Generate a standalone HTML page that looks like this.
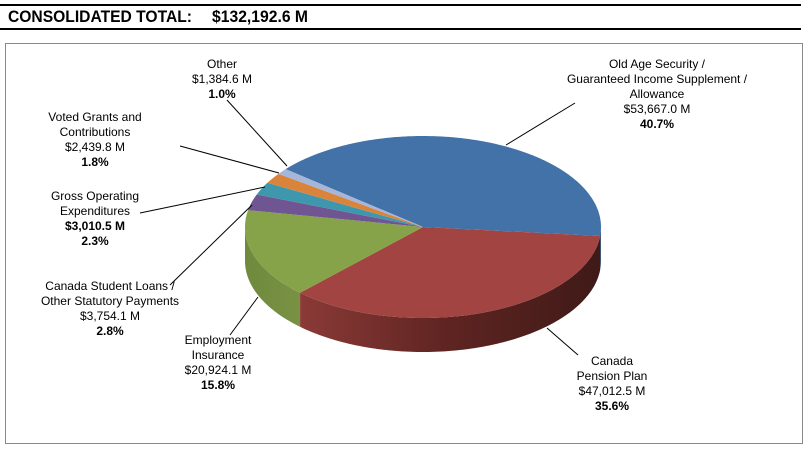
<!DOCTYPE html>
<html><head><meta charset="utf-8"><style>
body{margin:0;width:808px;height:446px;background:#fff;overflow:hidden;font-family:"Liberation Sans",Arial,sans-serif}
</style></head><body>
<svg width="808" height="446" xmlns="http://www.w3.org/2000/svg">
<defs>
<linearGradient id="redSide" x1="0" x2="1" y1="0" y2="0"><stop offset="0" stop-color="#8a3a37"/><stop offset="0.5" stop-color="#5e2421"/><stop offset="1" stop-color="#3f1a18"/></linearGradient>
<linearGradient id="greenSide" x1="0" x2="1"><stop offset="0" stop-color="#6f8a3d"/><stop offset="1" stop-color="#7a9143"/></linearGradient>
</defs>
<rect x="0" y="4" width="801" height="2" fill="#000"/>
<text x="8" y="22" font-size="17" font-weight="bold" textLength="184" lengthAdjust="spacingAndGlyphs">CONSOLIDATED TOTAL:</text>
<text x="212" y="22" font-size="17" font-weight="bold" textLength="96" lengthAdjust="spacingAndGlyphs">$132,192.6 M</text>
<rect x="0" y="28" width="801" height="2" fill="#000"/>
<rect x="5.5" y="43.5" width="797" height="400" fill="#fff" stroke="#888"/>
<g id="pie"></g>
<g id="labels" font-size="12" text-anchor="middle" fill="#000"></g>
</svg>
<script>
const categories=["Old Age Security / Guaranteed Income Supplement / Allowance","Canada Pension Plan","Employment Insurance","Canada Student Loans / Other Statutory Payments","Gross Operating Expenditures","Voted Grants and Contributions","Other"];
const values=[53667.0,47012.5,20924.1,3754.1,3010.5,2439.8,1384.6];
const amountLabels=["$53,667.0 M","$47,012.5 M","$20,924.1 M","$3,754.1 M","$3,010.5 M","$2,439.8 M","$1,384.6 M"];
const percentLabels=["40.7%","35.6%","15.8%","2.8%","2.3%","1.8%","1.0%"];
const colors=["#4272a8","#a24441","#86a34a","#6f5592","#3f97ae","#d9843a","#a5b6d9"];
const sideColors=["#2c4d73","url(#redSide)","url(#greenSide)","#4b3a63","#2a6777","#93592a","#707b94"];
const NS="http://www.w3.org/2000/svg";
const cx=423,cy=227,rx=178,ry=91,depth=34,startDeg=-140.5;
const pie=document.getElementById('pie');
const total=values.reduce((a,b)=>a+b,0);
function pt(deg,dy){const r=deg*Math.PI/180;return [cx+rx*Math.cos(r),cy+ry*Math.sin(r)+(dy||0)];}
function arc(a1,a2,dy){let s=[];const n=Math.max(2,Math.ceil(Math.abs(a2-a1)));for(let i=0;i<=n;i++){const p=pt(a1+(a2-a1)*i/n,dy);s.push(p[0].toFixed(2)+','+p[1].toFixed(2));}return s;}
let angles=[];let a=startDeg;
values.forEach(v=>{const b=a+v/total*360;angles.push([a,b]);a=b;});
angles.forEach(([a1,a2],i)=>{
  for(const off of [0,360,-360]){
    const s=Math.max(a1+off,0),e=Math.min(a2+off,180);
    if(e>s){
      const top=arc(s,e,0),bot=arc(e,s,depth);
      const p=document.createElementNS(NS,'polygon');
      p.setAttribute('points',top.concat(bot).join(' '));
      p.setAttribute('fill',sideColors[i]);
      
      
      pie.appendChild(p);
    }
  }
});
angles.forEach(([a1,a2],i)=>{
  const p=document.createElementNS(NS,'polygon');
  p.setAttribute('points',[cx+','+cy].concat(arc(a1,a2,0)).join(' '));
  p.setAttribute('fill',colors[i]);
  
  
  pie.appendChild(p);
});
const lab=document.getElementById('labels');
const layout=[
 {x:657,y:68,lines:["Old Age Security /","Guaranteed Income Supplement /","Allowance"],l:[575,103,506,145],boldAmt:false},
 {x:612,y:365,lines:["Canada","Pension Plan"],l:[578,355,547,328],boldAmt:false},
 {x:218,y:344,lines:["Employment","Insurance"],l:[230,335,258,297],boldAmt:false},
 {x:110,y:290,lines:["Canada Student Loans /","Other Statutory Payments"],l:[170,285,252,205],boldAmt:false},
 {x:95,y:200,lines:["Gross Operating","Expenditures"],l:[140,213,265,187],boldAmt:true},
 {x:95,y:121,lines:["Voted Grants and","Contributions"],l:[180,146,279,173],boldAmt:false},
 {x:222,y:68,lines:["Other"],l:[227,100,287,166],boldAmt:false}
];
layout.forEach((L,i)=>{
  const ln=document.createElementNS(NS,'line');
  ln.setAttribute('x1',L.l[0]);ln.setAttribute('y1',L.l[1]);ln.setAttribute('x2',L.l[2]);ln.setAttribute('y2',L.l[3]);
  ln.setAttribute('stroke','#000');ln.setAttribute('stroke-width','1');
  
  
  lab.appendChild(ln);
  const t=document.createElementNS(NS,'text');
  
  
  const rows=L.lines.map(s=>[s,false]).concat([[amountLabels[i],L.boldAmt],[percentLabels[i],true]]);
  rows.forEach((r,k)=>{
    const ts=document.createElementNS(NS,'tspan');
    ts.setAttribute('x',L.x);ts.setAttribute('y',L.y+k*15);
    if(r[1])ts.setAttribute('font-weight','bold');
    ts.textContent=r[0];t.appendChild(ts);
  });
  lab.appendChild(t);
});
</script>
</body></html>
